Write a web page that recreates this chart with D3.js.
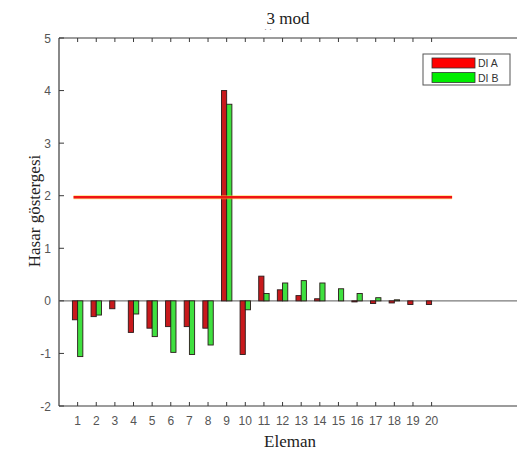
<!DOCTYPE html>
<html>
<head>
<meta charset="utf-8">
<script src="https://cdn.jsdelivr.net/npm/d3@7"></script>
<style>
  body { margin: 0; background: #fff; }
  svg { display: block; }
</style>
</head>
<body>
<svg id="chart"></svg>
<script>
// data
var elements = d3.range(1, 21);
var diA = [-0.36, -0.30, -0.15, -0.60, -0.52, -0.49, -0.49, -0.52, 4.00, -1.02,
           0.47, 0.21, 0.10, 0.04, 0.00, -0.02, -0.05, -0.04, -0.07, -0.07];
var diB = [-1.06, -0.27, 0.00, -0.25, -0.68, -0.98, -1.02, -0.84, 3.74, -0.17,
           0.14, 0.34, 0.385, 0.34, 0.23, 0.14, 0.06, 0.02, 0.00, 0.00];
var threshold = 1.97;
var thresholdSpan = [0.78, 21.1];
var yTicks = [-2, -1, 0, 1, 2, 3, 4, 5];
var seriesNames = ["DI A", "DI B"];

var W = 517, H = 456;
var plotLeft = 59, plotTop = 38, plotBottom = 406;
var unit = 18.63;

var svg = d3.select("#chart").attr("width", W).attr("height", H);

var x = d3.scaleLinear().domain([0, 25]).range([plotLeft, plotLeft + 25 * unit]);
var y = d3.scaleLinear().domain([-2, 5]).range([plotBottom, plotTop]);

var axisCol = "#3a3a3a";
var sans = "'Liberation Sans', Arial, sans-serif";
var serif = "'Liberation Serif', 'Times New Roman', serif";

// frame lines (box runs off the right edge)
svg.append("line").attr("x1", plotLeft).attr("x2", W + 10).attr("y1", plotTop).attr("y2", plotTop)
  .attr("stroke", axisCol).attr("stroke-width", 1.2);
svg.append("line").attr("x1", plotLeft).attr("x2", W + 10).attr("y1", plotBottom).attr("y2", plotBottom)
  .attr("stroke", axisCol).attr("stroke-width", 1.2);
svg.append("line").attr("x1", plotLeft).attr("x2", plotLeft).attr("y1", plotTop).attr("y2", plotBottom)
  .attr("stroke", axisCol).attr("stroke-width", 1.2);

// zero line
svg.append("line").attr("x1", plotLeft).attr("x2", W + 10).attr("y1", y(0)).attr("y2", y(0))
  .attr("stroke", "#7a7a7a").attr("stroke-width", 1.2);

// x ticks bottom & top (inward)
var gx = svg.append("g");
elements.forEach(function(e){
  gx.append("line").attr("x1", x(e)).attr("x2", x(e)).attr("y1", plotBottom).attr("y2", plotBottom - 4)
    .attr("stroke", axisCol);
  gx.append("line").attr("x1", x(e)).attr("x2", x(e)).attr("y1", plotTop).attr("y2", plotTop + 4)
    .attr("stroke", axisCol);
  gx.append("text").attr("x", x(e)).attr("y", 425).attr("text-anchor", "middle")
    .attr("font-family", sans).attr("font-size", 12).attr("fill", "#555").text(e);
});

// y ticks
var gy = svg.append("g");
yTicks.forEach(function(t){
  gy.append("line").attr("x1", plotLeft).attr("x2", plotLeft + 5).attr("y1", y(t)).attr("y2", y(t))
    .attr("stroke", axisCol);
  gy.append("text").attr("x", 51).attr("y", y(t) + 4.5).attr("text-anchor", "end")
    .attr("font-family", sans).attr("font-size", 12).attr("fill", "#555").text(t);
});

// bars
var bw = 0.28;
var bars = svg.append("g");
function drawBars(vals, off, fill){
  bars.selectAll(null).data(vals).enter().append("rect")
    .attr("x", function(d, i){ return x(elements[i] + off); })
    .attr("width", x(bw) - x(0))
    .attr("y", function(d){ return y(Math.max(0, d)); })
    .attr("height", function(d){ return Math.abs(y(d) - y(0)); })
    .attr("fill", fill)
    .attr("stroke", "#2a1a1a").attr("stroke-width", 0.9)
    .style("display", function(d){ return d === 0 ? "none" : null; });
}
drawBars(diA, -bw, "#c8191c");
drawBars(diB, 0, "#3fe03f");

// threshold line
svg.append("line").attr("x1", x(thresholdSpan[0])).attr("x2", x(thresholdSpan[1]))
  .attr("y1", y(threshold)).attr("y2", y(threshold))
  .attr("stroke", "#ffcc33").attr("stroke-width", 4).attr("opacity", 0.6);
svg.append("line").attr("x1", x(thresholdSpan[0])).attr("x2", x(thresholdSpan[1]))
  .attr("y1", y(threshold)).attr("y2", y(threshold))
  .attr("stroke", "#f01414").attr("stroke-width", 2.4);

// legend
var lg = svg.append("g");
lg.append("rect").attr("x", 423).attr("y", 54).attr("width", 87).attr("height", 31)
  .attr("fill", "#fff").attr("stroke", "#555").attr("stroke-width", 1);
var legCols = ["#ff0000", "#00ee00"];
seriesNames.forEach(function(n, i){
  lg.append("rect").attr("x", 432).attr("y", 58 + i * 14.5).attr("width", 43).attr("height", 10)
    .attr("fill", legCols[i]).attr("stroke", "#333").attr("stroke-width", 0.8);
  lg.append("text").attr("x", 478).attr("y", 67 + i * 14.5)
    .attr("font-family", sans).attr("font-size", 10.5).attr("fill", "#333").text(n);
});

// title and labels
svg.append("text").attr("x", 288).attr("y", 24).attr("text-anchor", "middle")
  .attr("font-family", serif).attr("font-size", 17).attr("fill", "#222").text("3 mod");
svg.append("text").attr("x", 268).attr("y", 35).attr("text-anchor", "middle")
  .attr("font-family", serif).attr("font-size", 9).attr("fill", "#555").text("˙  ˙");
svg.append("text").attr("x", 290).attr("y", 447).attr("text-anchor", "middle")
  .attr("font-family", serif).attr("font-size", 17).attr("fill", "#222").text("Eleman");
svg.append("text").attr("transform", "translate(40,211) rotate(-90)").attr("text-anchor", "middle")
  .attr("font-family", serif).attr("font-size", 17).attr("fill", "#222").text("Hasar göstergesi");
</script>
</body>
</html>
